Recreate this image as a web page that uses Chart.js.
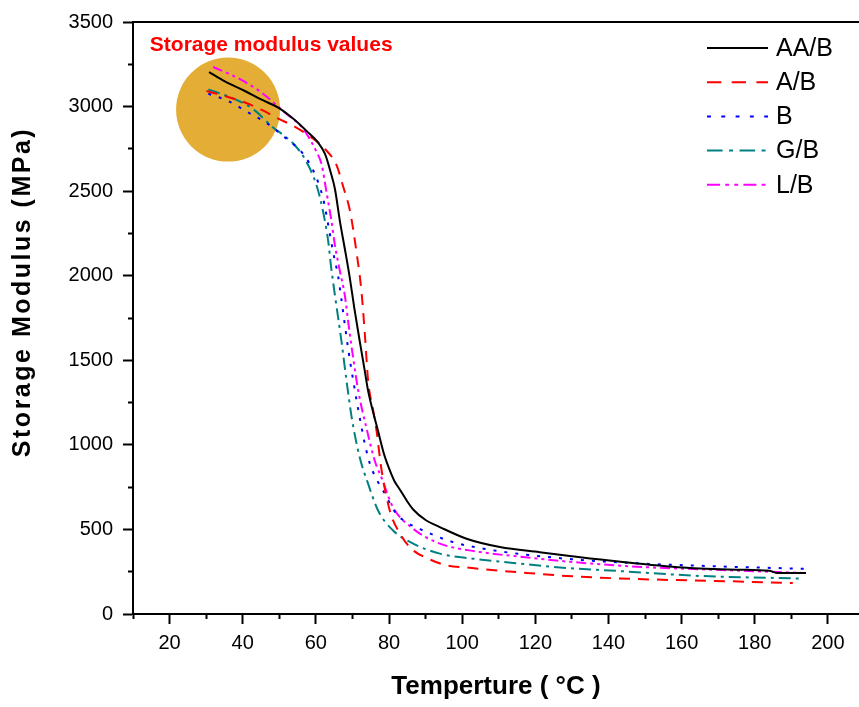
<!DOCTYPE html>
<html>
<head>
<meta charset="utf-8">
<script src="https://cdn.jsdelivr.net/npm/chart.js@4.4.1/dist/chart.umd.min.js"></script>
<style>
  html, body { margin: 0; padding: 0; background: #fff; }
  #chart { display: block; }
</style>
</head>
<body>
<canvas id="chart" width="859" height="707"></canvas>
<script>
const FONT = '"Liberation Sans", Arial, sans-serif';

// series
const seriesLabels = ['AA/B', 'A/B', 'B', 'G/B', 'L/B'];
const seriesColors = ['#000000', '#ff0000', '#0000ff', '#008080', '#ff00ff'];
const seriesDashes = [[], [11, 8], [3, 8], [12, 5, 3, 5], [10, 4, 3, 4, 3, 4]];

// temperature (°C) / storage modulus (MPa)
const aabTemp = [30.8, 35, 40.6, 45, 49.7, 54, 57.5, 60.5, 62.5, 64, 65.2, 66.6, 67.9, 69.3, 70.5, 72.0, 73.2, 74.3, 75.7, 77.0, 78.5, 80.2, 81.5, 83.0, 85.0, 86.6, 90, 93.9, 101.2, 110.3, 121.2, 130, 142.2, 160.4, 175, 184, 186, 194];
const aabModulus = [3204, 3150, 3092, 3042, 2994, 2925, 2855, 2790, 2720, 2615, 2514, 2318, 2161, 1984, 1810, 1612, 1460, 1318, 1190, 1082, 955, 850, 785, 735, 665, 618, 556, 514, 445, 396, 365, 342, 312, 275, 262, 255, 243, 243];

const abTemp = [30.1, 36.0, 40.6, 45.2, 49.7, 54.3, 58.8, 62.5, 65.7, 67.5, 69.3, 71.1, 72.5, 73.4, 74.3, 75.7, 76.6, 77.9, 80.2, 83.0, 86.1, 90.7, 95.7, 101.2, 106.6, 117.6, 128.5, 145.8, 172.2, 190.4];
const abModulus = [3092, 3057, 3024, 2980, 2929, 2880, 2818, 2749, 2651, 2524, 2386, 2141, 1900, 1651, 1376, 1200, 1082, 860, 612, 475, 386, 327, 288, 275, 263, 243, 225, 208, 194, 183];

const bTemp = [30.6, 36.0, 41.5, 47.0, 51.5, 54, 56.5, 59.7, 62.0, 63.4, 64.7, 66.1, 67.0, 68.8, 70.7, 72.5, 73.4, 74.8, 76.5, 78.4, 82.0, 85, 89.3, 97.5, 107.5, 116.6, 129.9, 149.4, 169.5, 193.6];
const bModulus = [3076, 3033, 2965, 2896, 2818, 2775, 2720, 2602, 2455, 2298, 2141, 1994, 1857, 1573, 1318, 1102, 1004, 886, 800, 729, 592, 540, 494, 425, 380, 353, 324, 298, 282, 267];

const gbTemp = [30.6, 37.9, 42.9, 48.3, 51.5, 54.3, 57.0, 60.2, 62.0, 63.4, 64.1, 65.2, 67.0, 68.4, 69.8, 72.0, 74.3, 77.0, 81.1, 86.6, 93.9, 103.0, 113.9, 126.7, 142.2, 165.0, 192.2];
const gbModulus = [3102, 3043, 2984, 2876, 2825, 2770, 2690, 2533, 2376, 2200, 2063, 1886, 1612, 1376, 1161, 925, 769, 612, 494, 416, 357, 327, 302, 275, 255, 225, 210];

const lbTemp = [31.9, 38.8, 45.2, 51.5, 56.1, 58, 60, 61.6, 62.9, 64.3, 65.2, 66.6, 67.9, 69.0, 70.2, 71.6, 73.8, 76.1, 77.9, 81.1, 86.6, 93.9, 104.8, 116.6, 126.7, 145.8, 172.2, 193.1];
const lbModulus = [3234, 3167, 3082, 2965, 2880, 2820, 2740, 2655, 2494, 2318, 2181, 2024, 1886, 1700, 1514, 1318, 1102, 906, 808, 631, 504, 416, 367, 337, 314, 282, 259, 243];

// axes
const xTicks = [20, 40, 60, 80, 100, 120, 140, 160, 180, 200];
const xMinorTicks = [10, 30, 50, 70, 90, 110, 130, 150, 170, 190];
const yTicks = [0, 500, 1000, 1500, 2000, 2500, 3000, 3500];
const yMinorTicks = [250, 750, 1250, 1750, 2250, 2750, 3250];
const xTitle = 'Temperture ( °C )';
const yTitle = 'Storage Modulus (MPa)';

// highlighted region and its note (data coordinates)
const highlightCenter = [36, 2982];
const noteText = 'Storage modulus values';
const noteAt = [14.6, 3330];

const temps = [aabTemp, abTemp, bTemp, gbTemp, lbTemp];
const moduli = [aabModulus, abModulus, bModulus, gbModulus, lbModulus];

const datasets = seriesLabels.map((label, i) => ({
    type: 'line',
    label,
    data: temps[i].map((t, k) => ({ x: t, y: moduli[i][k] })),
    borderColor: seriesColors[i],
    backgroundColor: seriesColors[i],
    borderWidth: 2,
    borderDash: seriesDashes[i],
    pointRadius: 0,
    cubicInterpolationMode: 'monotone',
    fill: false,
    order: 1
}));

datasets.push({
    type: 'bubble',
    label: 'highlight',
    data: [{ x: highlightCenter[0], y: highlightCenter[1], r: 52 }],
    backgroundColor: '#e4ad36',
    borderWidth: 0,
    order: 10,
    clip: false
});

// legend in the top-right corner of the plot
const cornerLegend = {
    id: 'cornerLegend',
    afterDraw(chart) {
        const { ctx, chartArea } = chart;
        const x0 = chartArea.right - 152;
        ctx.save();
        ctx.font = '25px ' + FONT;
        ctx.textBaseline = 'middle';
        ctx.fillStyle = '#000';
        seriesLabels.forEach((label, i) => {
            const y = chartArea.top + 26 + i * 34.2;
            ctx.beginPath();
            ctx.setLineDash(seriesDashes[i].map(d => d * 1.3));
            ctx.strokeStyle = seriesColors[i];
            ctx.lineWidth = 2;
            ctx.moveTo(x0, y);
            ctx.lineTo(x0 + 61, y);
            ctx.stroke();
            ctx.setLineDash([]);
            ctx.fillText(label, x0 + 69, y + 1);
        });
        ctx.restore();
    }
};

// red note + the y title (letter-spaced, sits a bit above centre like the original)
const texts = {
    id: 'texts',
    afterDraw(chart) {
        const { ctx, scales, chartArea } = chart;
        ctx.save();
        ctx.font = 'bold 21px ' + FONT;
        ctx.fillStyle = '#ff0000';
        ctx.textBaseline = 'alphabetic';
        ctx.fillText(noteText, scales.x.getPixelForValue(noteAt[0]), scales.y.getPixelForValue(noteAt[1]));

        ctx.translate(23, (chartArea.top + chartArea.bottom) / 2 - 26);
        ctx.rotate(-Math.PI / 2);
        ctx.font = 'bold 25px ' + FONT;
        if ('letterSpacing' in ctx) ctx.letterSpacing = '2.5px';
        ctx.fillStyle = '#000';
        ctx.textAlign = 'center';
        ctx.textBaseline = 'middle';
        ctx.fillText(yTitle, 0, 0);
        ctx.restore();
    }
};

const black = '#000';

new Chart(document.getElementById('chart'), {
    type: 'scatter',
    data: { datasets },
    options: {
        responsive: false,
        animation: false,
        devicePixelRatio: 1,
        layout: { autoPadding: false, padding: { top: 20, right: 0, left: 0, bottom: 0 } },
        plugins: { legend: { display: false }, tooltip: { enabled: false } },
        scales: {
            x: {
                type: 'linear', position: 'bottom', min: 10, max: 208.5, weight: 1,
                afterBuildTicks: s => { s.ticks = xTicks.map(v => ({ value: v })); },
                afterFit: s => { s.height = 93; },
                ticks: { color: black, font: { family: FONT, size: 20 }, padding: 7, maxRotation: 0, autoSkip: false, callback: v => String(v) },
                grid: { drawOnChartArea: false, tickLength: 10, tickWidth: 2, tickColor: black },
                border: { color: black, width: 2 },
                title: {
                    display: true, text: xTitle, color: black,
                    font: { family: FONT, size: 26, weight: 'bold' }, padding: { top: 0, bottom: 5 }
                }
            },
            xMinor: {
                type: 'linear', position: 'bottom', min: 10, max: 208.5, weight: 0,
                afterBuildTicks: s => { s.ticks = xMinorTicks.map(v => ({ value: v })); },
                afterFit: s => { s.height = 0; },
                ticks: { display: false },
                grid: { drawOnChartArea: false, tickLength: 5, tickWidth: 2, tickColor: black },
                border: { display: false }
            },
            xTop: {
                type: 'linear', position: 'top', min: 10, max: 208.5,
                afterFit: s => { s.height = 0; },
                ticks: { display: false },
                grid: { display: false },
                border: { color: black, width: 2 }
            },
            y: {
                type: 'linear', position: 'left', min: 0, max: 3500, weight: 1,
                afterBuildTicks: s => { s.ticks = yTicks.map(v => ({ value: v })); },
                afterFit: s => { s.width = 133; },
                ticks: { color: black, font: { family: FONT, size: 20 }, padding: 10, callback: v => String(v) },
                grid: { drawOnChartArea: false, tickLength: 10, tickWidth: 2, tickColor: black },
                border: { color: black, width: 2 }
            },
            yMinor: {
                type: 'linear', position: 'left', min: 0, max: 3500, weight: 0,
                afterBuildTicks: s => { s.ticks = yMinorTicks.map(v => ({ value: v })); },
                afterFit: s => { s.width = 0; },
                ticks: { display: false },
                grid: { drawOnChartArea: false, tickLength: 5, tickWidth: 2, tickColor: black },
                border: { display: false }
            }
        }
    },
    plugins: [cornerLegend, texts]
});
</script>
</body>
</html>
